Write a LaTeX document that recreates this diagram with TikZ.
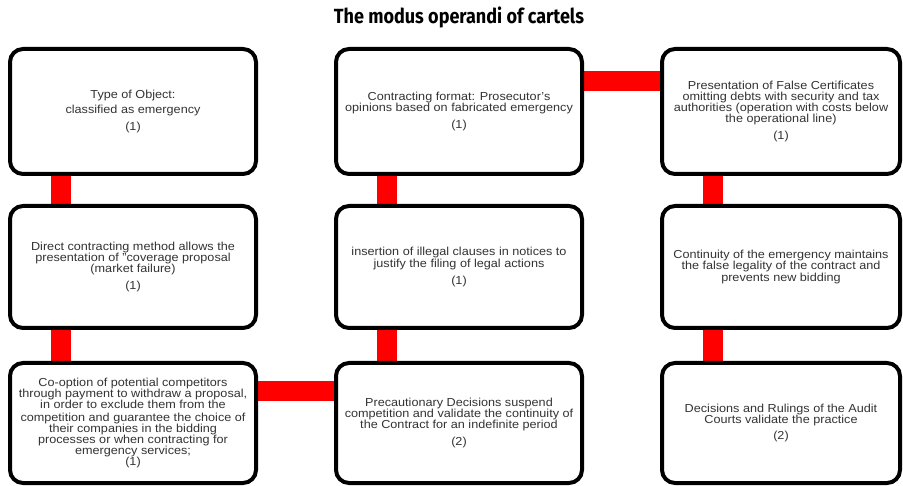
\documentclass[tikz,border=0pt]{standalone}
\usepackage{fontspec}
\setmainfont{Liberation Sans}[FakeStretch=1.09]
\newfontfamily\titlefont{Fira Sans}[FakeStretch=0.88]
\usetikzlibrary{backgrounds}

\tikzset{
  stepbox/.style={draw=black, line width=4pt, rounded corners=13pt, fill=white,
    align=center, text=black!80, inner sep=0pt,
    font=\fontsize{11.6}{11.2}\selectfont},
  link/.style={draw=red, line width=20pt},
}

\begin{document}
\begin{tikzpicture}[x=1pt,y=-1pt]
\useasboundingbox (0,0) rectangle (903,486);
\node[font=\titlefont\bfseries\fontsize{20.5}{20.5}\selectfont] (title) at (459,17) {The modus operandi of cartels};

% first column
\node[stepbox, minimum width=246pt, minimum height=125pt] (type) at (133,111.5)
  {Type of Object:\\[4pt] classified as emergency\\[5pt] (1)};
\node[stepbox, minimum width=246pt, minimum height=122pt] (direct) at (133,267)
  {Direct contracting method allows the\\ presentation of "coverage proposal\\ (market failure)\\[6pt] (1)};
\node[stepbox, minimum width=246pt, minimum height=120pt] (coopt) at (133,423)
  {Co-option of potential competitors\\ through payment to withdraw a proposal,\\ in order to exclude them from the\\[1.5pt] competition and guarantee the choice of\\ their companies in the bidding\\ processes or when contracting for\\ emergency services;\\ (1)};

% second column
\node[stepbox, minimum width=246pt, minimum height=125pt] (format) at (459,111.5)
  {Contracting format: Prosecutor's\\ opinions based on fabricated emergency\\[6pt] (1)};
\node[stepbox, minimum width=246pt, minimum height=122pt] (clauses) at (459,267)
  {insertion of illegal clauses in notices to\\ justify the filing of legal actions\\[6pt] (1)};
\node[stepbox, minimum width=246pt, minimum height=120pt] (precaution) at (459,423)
  {Precautionary Decisions suspend\\ competition and validate the continuity of\\ the Contract for an indefinite period\\[6pt] (2)};

% third column
\node[stepbox, minimum width=238pt, minimum height=125pt] (certif) at (781,111.5)
  {Presentation of False Certificates\\ omitting debts with security and tax\\ authorities (operation with costs below\\ the operational line)\\[6pt] (1)};
\node[stepbox, minimum width=238pt, minimum height=122pt] (continuity) at (781,267)
  {Continuity of the emergency maintains\\ the false legality of the contract and\\ prevents new bidding};
\node[stepbox, minimum width=238pt, minimum height=120pt] (rulings) at (781,423)
  {Decisions and Rulings of the Audit\\ Courts validate the practice\\[5pt] (2)};

% red links behind the boxes
\begin{scope}[on background layer]
\draw[link] ([xshift=53pt]type.south west) -- ([xshift=53pt]direct.north west);
\draw[link] ([xshift=53pt]direct.south west) -- ([xshift=53pt]coopt.north west);
\draw[link] ([yshift=-30pt]coopt.north east) -- ([yshift=-30pt]precaution.north west);
\draw[link] ([xshift=53pt]precaution.north west) -- ([xshift=53pt]clauses.south west);
\draw[link] ([xshift=53pt]clauses.north west) -- ([xshift=53pt]format.south west);
\draw[link] ([yshift=-34pt]format.north east) -- ([yshift=-34pt]certif.north west);
\draw[link] ([xshift=53pt]certif.south west) -- ([xshift=53pt]continuity.north west);
\draw[link] ([xshift=53pt]continuity.south west) -- ([xshift=53pt]rulings.north west);
\end{scope}
\end{tikzpicture}
\end{document}
